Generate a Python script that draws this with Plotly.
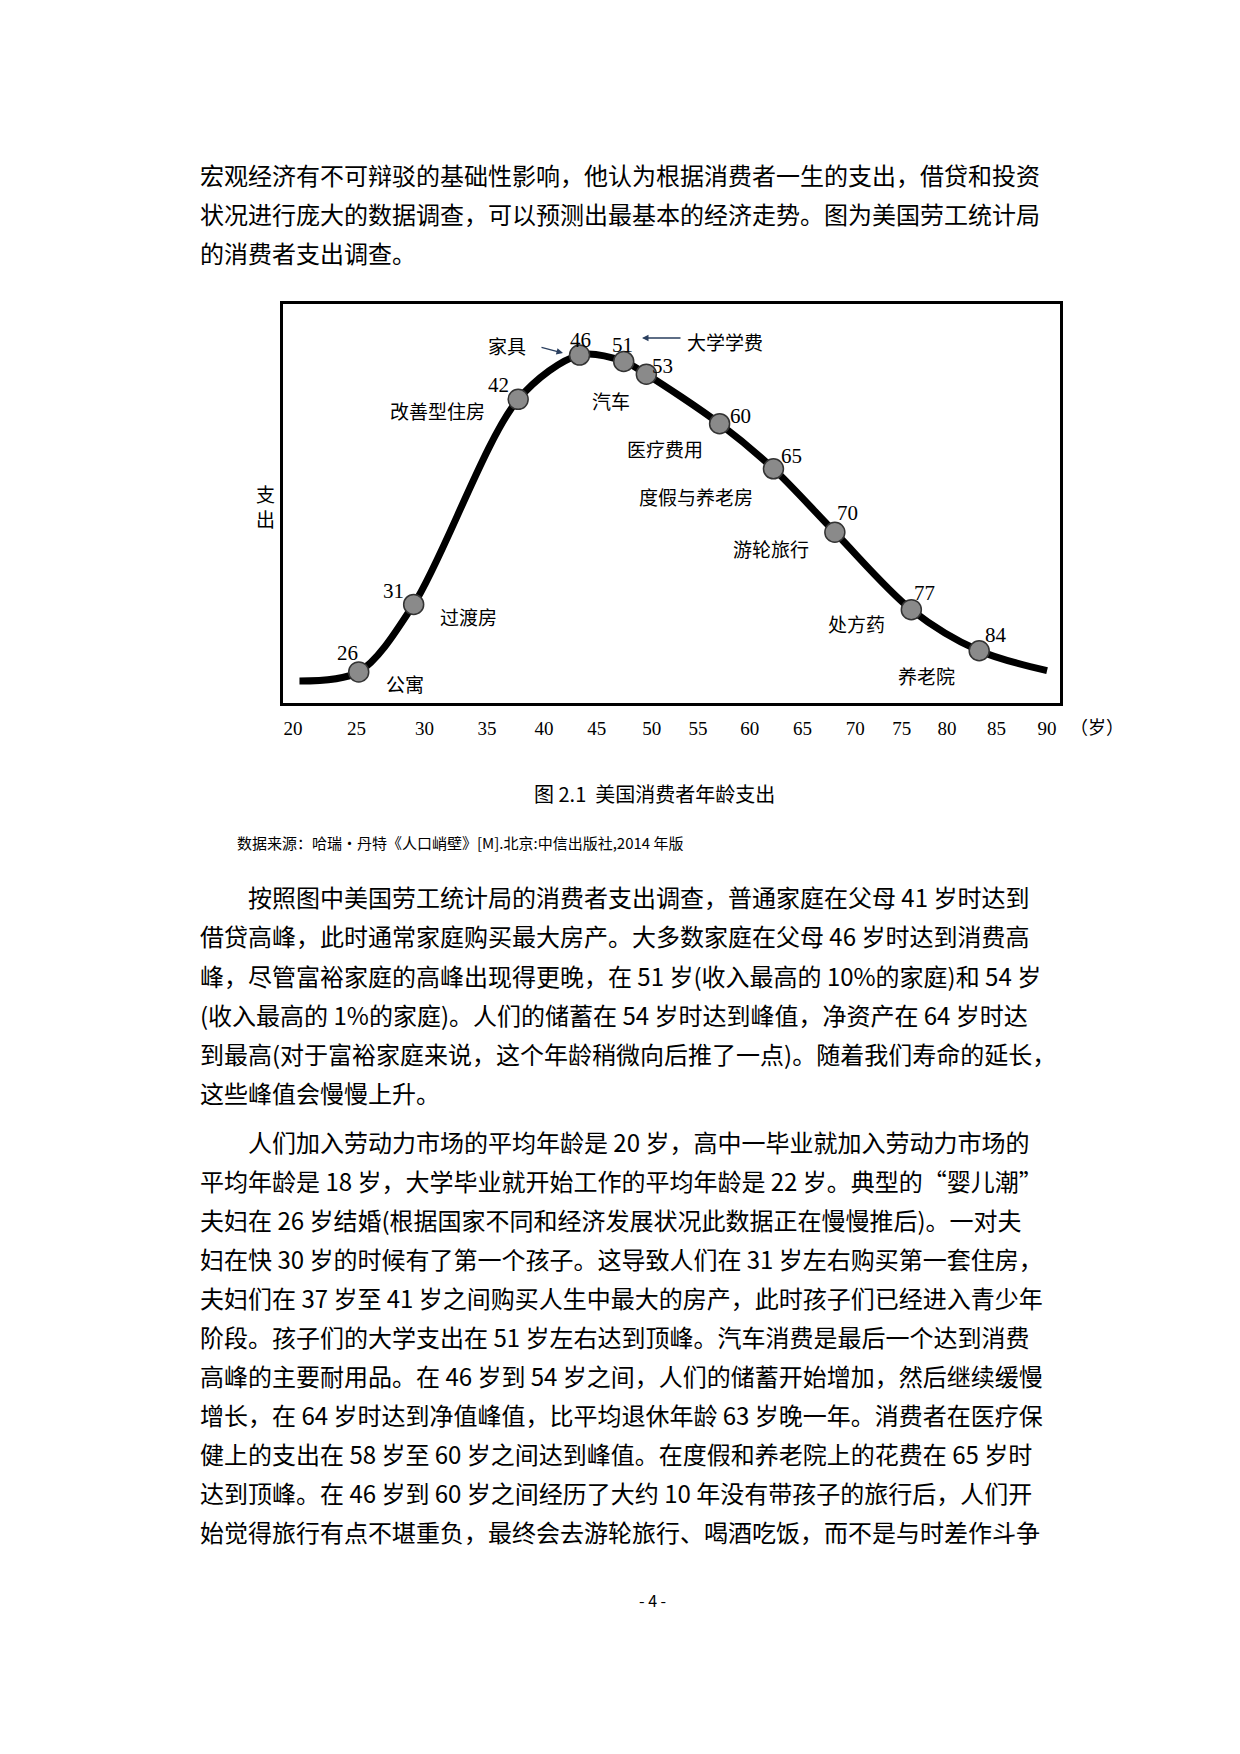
import plotly.graph_objects as go

W, H = 1240, 1754

# ---- data (x in axis units, y = relative spending 0..100) ----
tick_pos = [20, 25.9, 32.2, 38.0, 43.3, 48.2, 53.3, 57.6, 62.4, 67.3, 72.2, 76.5, 80.7, 85.3, 90]
tick_text = ["20", "25", "30", "35", "40", "45", "50", "55", "60", "65", "70", "75", "80", "85", "90"]

curve_x = [20.6, 26.1, 31.2, 40.9, 46.6, 50.7, 52.8, 59.6, 64.6, 70.3, 77.4, 83.7, 90]
curve_y = [5.5, 7.8, 24.7, 76.1, 87.2, 85.6, 82.4, 70.0, 58.7, 42.8, 23.4, 13.1, 8.1]

point_ages = ["26", "31", "42", "46", "51", "53", "60", "65", "70", "77", "84"]
point_x = curve_x[1:-1]
point_y = curve_y[1:-1]

event_labels = ["公寓", "过渡房", "改善型住房", "家具", "大学学费", "汽车", "医疗费用",
                "度假与养老房", "游轮旅行", "处方药", "养老院"]

top_lines = [
    "宏观经济有不可辩驳的基础性影响，他认为根据消费者一生的支出，借贷和投资",
    "状况进行庞大的数据调查，可以预测出最基本的经济走势。图为美国劳工统计局",
    "的消费者支出调查。",
]
para1 = [
    "按照图中美国劳工统计局的消费者支出调查，普通家庭在父母 41 岁时达到",
    "借贷高峰，此时通常家庭购买最大房产。大多数家庭在父母 46 岁时达到消费高",
    "峰，尽管富裕家庭的高峰出现得更晚，在 51 岁(收入最高的 10%的家庭)和 54 岁",
    "(收入最高的 1%的家庭)。人们的储蓄在 54 岁时达到峰值，净资产在 64 岁时达",
    "到最高(对于富裕家庭来说，这个年龄稍微向后推了一点)。随着我们寿命的延长，",
    "这些峰值会慢慢上升。",
]
para2 = [
    "人们加入劳动力市场的平均年龄是 20 岁，高中一毕业就加入劳动力市场的",
    "平均年龄是 18 岁，大学毕业就开始工作的平均年龄是 22 岁。典型的“婴儿潮”",
    "夫妇在 26 岁结婚(根据国家不同和经济发展状况此数据正在慢慢推后)。一对夫",
    "妇在快 30 岁的时候有了第一个孩子。这导致人们在 31 岁左右购买第一套住房，",
    "夫妇们在 37 岁至 41 岁之间购买人生中最大的房产，此时孩子们已经进入青少年",
    "阶段。孩子们的大学支出在 51 岁左右达到顶峰。汽车消费是最后一个达到消费",
    "高峰的主要耐用品。在 46 岁到 54 岁之间，人们的储蓄开始增加，然后继续缓慢",
    "增长，在 64 岁时达到净值峰值，比平均退休年龄 63 岁晚一年。消费者在医疗保",
    "健上的支出在 58 岁至 60 岁之间达到峰值。在度假和养老院上的花费在 65 岁时",
    "达到顶峰。在 46 岁到 60 岁之间经历了大约 10 年没有带孩子的旅行后，人们开",
    "始觉得旅行有点不堪重负，最终会去游轮旅行、喝酒吃饭，而不是与时差作斗争",
]

CJK = "Noto Sans CJK SC"
SERIF = "Liberation Serif"

# plot box in page pixels
BX0, BX1, BY0, BY1 = 275, 1052, 296, 695
XR = [19.07, 91.2]
YR = [0, 100]


def px2x(px):
    return XR[0] + (px - BX0) / (BX1 - BX0) * (XR[1] - XR[0])


def py2y(py):
    return (BY1 - py) / (BY1 - BY0) * 100


fig = go.Figure()
fig.add_trace(go.Scatter(x=curve_x, y=curve_y, mode="lines",
                         line=dict(color="black", width=7, shape="spline", smoothing=0.9),
                         hoverinfo="skip"))
fig.add_trace(go.Scatter(x=point_x, y=point_y, mode="markers",
                         marker=dict(size=20, color="#8a8a8a", line=dict(color="#333", width=1.5)),
                         hoverinfo="skip"))

# number labels (pixel positions) and event labels
num_pos = [(339, 645), (385, 583), (490, 377), (572, 332), (614, 337), (654, 358),
           (732, 408), (783, 448), (839, 505), (916, 585), (988, 627)]
evt_pos = [(397, 675), (460, 608), (429, 402), (499, 337), (717, 333), (603, 392),
           (657, 440), (688, 488), (763, 540), (848, 615), (918, 667)]

ann = []
for t, (px, py) in zip(point_ages, num_pos):
    ann.append(dict(x=px2x(px), y=py2y(py), text=t, showarrow=False,
                    font=dict(family=SERIF, size=21, color="black")))
for t, (px, py) in zip(event_labels, evt_pos):
    ann.append(dict(x=px2x(px), y=py2y(py), text=t, showarrow=False,
                    font=dict(family=CJK, size=19, color="black")))
# small arrows
ann.append(dict(x=px2x(555), y=py2y(345), ax=px2x(532), ay=py2y(339), axref="x", ayref="y",
                text="", showarrow=True, arrowhead=2, arrowsize=1, arrowwidth=1.3))
ann.append(dict(x=px2x(634), y=py2y(330), ax=px2x(674), ay=py2y(330), axref="x", ayref="y",
                text="", showarrow=True, arrowhead=2, arrowsize=1, arrowwidth=1.3))


def page(px, py, text, size, anchor="left", family=CJK):
    ann.append(dict(xref="paper", yref="paper", x=px / W, y=1 - py / H, text=text,
                    showarrow=False, xanchor=anchor, yanchor="middle",
                    font=dict(family=family, size=size, color="black")))


page(257, 498, "支<br>出", 19, "center")
page(1060, 718, "（岁）", 18)

DY = -10
for i, t in enumerate(top_lines):
    page(190, 176 + DY + 39 * i, t, 24)
for i, t in enumerate(para1):
    page(238 if i == 0 else 190, 899 + DY + 39 * i, t, 24)
for i, t in enumerate(para2):
    page(238 if i == 0 else 190, 1143 + DY + 39 * i, t, 24)

page(646, 785, "图 2.1  美国消费者年龄支出", 20, "center")
page(227, 834, "数据来源：哈瑞·丹特《人口峭壁》[M].北京:中信出版社,2014 年版", 15)
page(644, 1592, "- 4 -", 16, "center")

fig.update_layout(
    width=W, height=H, margin=dict(l=0, r=0, t=0, b=0),
    paper_bgcolor="white", plot_bgcolor="white", showlegend=False,
    annotations=ann,
    xaxis=dict(domain=[BX0 / W, BX1 / W], range=XR, showgrid=False, zeroline=False,
               showline=True, linecolor="black", linewidth=3, mirror=True,
               tickvals=tick_pos, ticktext=tick_text, ticks="", ticklabelstandoff=6,
               tickfont=dict(family=SERIF, size=19, color="black")),
    yaxis=dict(domain=[1 - BY1 / H, 1 - BY0 / H], range=YR, showgrid=False, zeroline=False,
               showline=True, linecolor="black", linewidth=3, mirror=True,
               showticklabels=False, ticks=""),
)

fig.write_html("out.html")
